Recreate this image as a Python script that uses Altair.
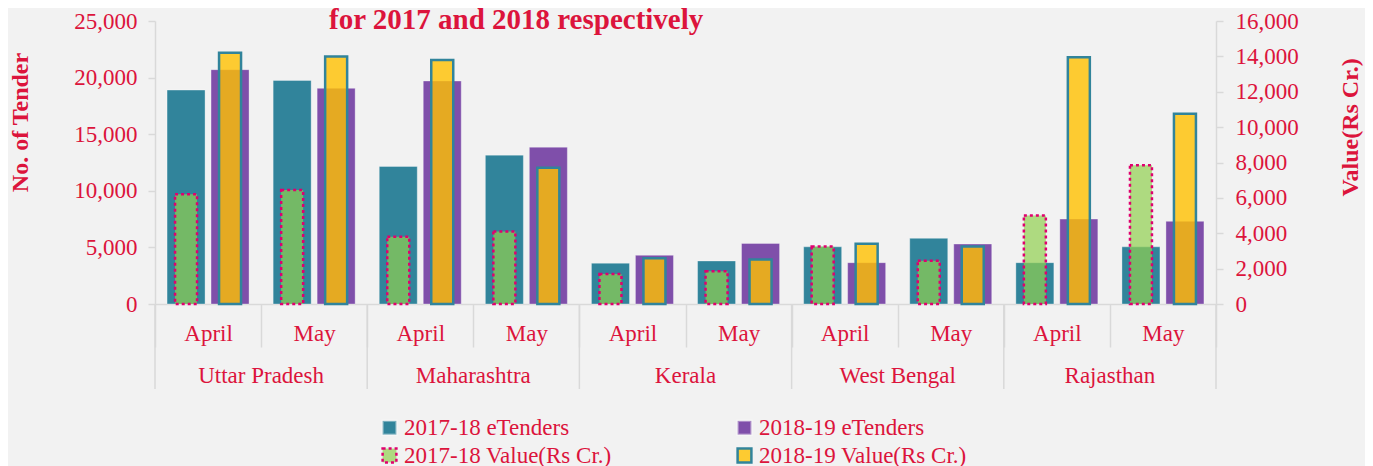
import altair as alt
import pandas as pd

states = ["Uttar Pradesh", "Maharashtra", "Kerala", "West Bengal", "Rajasthan"]
months = ["April", "May"]
tenders_2017 = [18900, 19750, 12150, 13150, 3600, 3800, 5050, 5800, 3650, 5050]
tenders_2018 = [20700, 19050, 19700, 13850, 4300, 5350, 3650, 5300, 7500, 7300]
value_2017 = [6200, 6450, 3800, 4100, 1700, 1850, 3250, 2450, 5000, 7850]
value_2018 = [14200, 14000, 13800, 7700, 2580, 2520, 3400, 3250, 13950, 10750]

series = ["2017-18 eTenders", "2018-19 eTenders",
          "2017-18 Value(Rs Cr.)", "2018-19 Value(Rs Cr.)"]
years = ["2017-18", "2018-19"]

RED = "#DC143C"
FONT = "Liberation Serif"

keys, rows_t, rows_v = [], [], []
i = 0
for s in states:
    for m in months:
        k = s + "|" + m
        keys.append(k)
        rows_t.append(dict(key=k, state=s, month=m, year=years[0], series=series[0], tenders=tenders_2017[i]))
        rows_t.append(dict(key=k, state=s, month=m, year=years[1], series=series[1], tenders=tenders_2018[i]))
        rows_v.append(dict(key=k, state=s, month=m, year=years[0], series=series[2], value=value_2017[i]))
        rows_v.append(dict(key=k, state=s, month=m, year=years[1], series=series[3], value=value_2018[i]))
        i += 1

df_t = pd.DataFrame(rows_t)
df_v = pd.DataFrame(rows_v)
df_state = pd.DataFrame({"state": states, "key": [s + "|May" for s in states],
                         "start": [s + "|April" for s in states]})
df_end = pd.DataFrame({"key": [keys[-1]]})

W, H = 1061, 283

fill_scale = alt.Scale(domain=series, range=["#31849B", "#7F4FAA",
                                             "rgba(146,208,80,0.7)", "rgba(255,192,0,0.8)"])
stroke_scale = alt.Scale(domain=series, range=["rgba(255,255,255,0.35)", "rgba(255,255,255,0.35)",
                                               "#E0006E", "#31849B"])
dash_scale = alt.Scale(domain=series, range=[[1, 0], [1, 0], [3, 3], [1, 0]])

legend = alt.Legend(
    title=None, orient="none", legendX=223, legendY=395, columns=2, direction="horizontal",
    columnPadding=120, rowPadding=3, symbolType="square", symbolSize=190,
    symbolStrokeWidth=2.5, labelFont=FONT, labelFontSize=23, labelColor=RED,
    labelLimit=400, labelOffset=3,
)

x_enc = alt.X(
    "key:N", title=None,
    scale=alt.Scale(domain=keys, paddingInner=0, paddingOuter=0),
    axis=alt.Axis(
        labelExpr="split(datum.label, '|')[1]", labelAngle=0, labelFont=FONT,
        labelFontSize=23, labelColor=RED, labelPadding=-14, labelBaseline="middle",
        tickBand="extent", tickSize=43, tickColor="#D9D9D9", tickWidth=1.5,
        domainColor="#D9D9D9", domainWidth=1.5, grid=False,
    ),
)

tender = alt.Chart(df_t).mark_bar(strokeWidth=1).encode(
    x=x_enc,
    xOffset=alt.XOffset("year:N", scale=alt.Scale(domain=years, paddingInner=0.136, paddingOuter=0.274)),
    y=alt.Y("tenders:Q", scale=alt.Scale(domain=[0, 25000], nice=False),
            axis=alt.Axis(orient="left", values=list(range(0, 25001, 5000)), format=",d",
                          title="No. of Tender", titleFont=FONT, titleFontSize=24,
                          titleFontWeight="bold", titleColor=RED, titleAngle=-90,
                          titleX=-128, titleY=101, titleAlign="center",
                          titleBaseline="alphabetic",
                          labelFont=FONT, labelFontSize=23, labelColor=RED,
                          labelPadding=11, tickSize=7, tickColor="#D9D9D9", tickWidth=1.5,
                          domainColor="#D9D9D9", domainWidth=1.5, grid=False)),
    fill=alt.Fill("series:N", scale=fill_scale, legend=legend),
    stroke=alt.Stroke("series:N", scale=stroke_scale, legend=legend),
    strokeDash=alt.StrokeDash("series:N", scale=dash_scale, legend=legend),
)

value = alt.Chart(df_v).mark_bar(strokeWidth=2.5).encode(
    x=alt.X("key:N"),
    xOffset=alt.XOffset("year:N", scale=alt.Scale(domain=years, paddingInner=0.5, paddingOuter=0.456)),
    y=alt.Y("value:Q", scale=alt.Scale(domain=[0, 16000], nice=False),
            axis=alt.Axis(orient="right", values=list(range(0, 16001, 2000)), format=",d",
                          title="Value(Rs Cr.)", titleFont=FONT, titleFontSize=24,
                          titleFontWeight="bold", titleColor=RED, titleAngle=-90,
                          titleX=141, titleY=106, titleAlign="center",
                          titleBaseline="alphabetic",
                          labelFont=FONT, labelFontSize=23, labelColor=RED,
                          labelPadding=12, tickSize=7, tickColor="#D9D9D9", tickWidth=1.5,
                          domainColor="#D9D9D9", domainWidth=1.5, grid=False)),
    fill=alt.Fill("series:N", scale=fill_scale, legend=legend),
    stroke=alt.Stroke("series:N", scale=stroke_scale, legend=legend),
    strokeDash=alt.StrokeDash("series:N", scale=dash_scale, legend=legend),
)

sep = alt.Chart(df_state).mark_rule(color="#D9D9D9", strokeWidth=1.5).encode(
    x=alt.X("start:N", bandPosition=0),
    y=alt.value(H), y2=alt.value(H + 85),
)
sep_end = alt.Chart(df_end).mark_rule(color="#D9D9D9", strokeWidth=1.5).encode(
    x=alt.X("key:N", bandPosition=1),
    y=alt.value(H), y2=alt.value(H + 85),
)
state_text = alt.Chart(df_state).mark_text(
    font=FONT, fontSize=23, color=RED, baseline="middle", align="center"
).encode(
    x=alt.X("key:N", bandPosition=0),
    y=alt.value(H + 72),
    text="state:N",
)
title_text = alt.Chart(pd.DataFrame({"t": ["for 2017 and 2018 respectively"]})).mark_text(
    font=FONT, fontSize=29, fontWeight="bold", color=RED, align="left", baseline="alphabetic"
).encode(x=alt.value(174), y=alt.value(8), text="t:N")

chart = alt.layer(tender, value, sep, sep_end, state_text, title_text).resolve_scale(
    y="independent", xOffset="independent"
).properties(
    width=W, height=H, background="#F2F2F2",
    autosize=alt.AutoSizeParams(type="none"),
    padding={"left": 147, "top": 13, "right": 149, "bottom": 162},
).configure_view(stroke=None)

chart.save("out.html", embed_options={"renderer": "svg", "actions": False})
